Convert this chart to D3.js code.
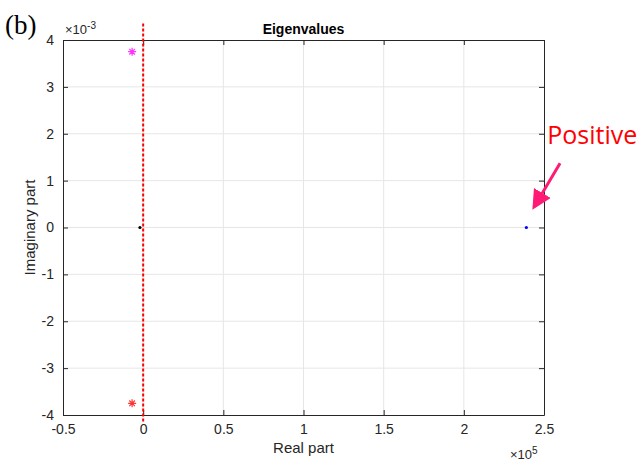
<!DOCTYPE html>
<html>
<head>
<meta charset="utf-8">
<script src="https://cdn.jsdelivr.net/npm/d3@7"></script>
<style>
  body { margin: 0; background: #fff; }
  svg { display: block; }
</style>
</head>
<body>
<div id="chart"></div>
<script>
// eigenvalues
const eigReal = [-6900, -6900, -2000, 239000];
const eigImag = [3.75e-3, -3.75e-3, 0, 0];
const eigKind = ["star", "star", "dot", "dot"];
const eigColor = ["#ff33ff", "#ff3333", "#000000", "#0000ff"];

const xTicks = [-0.5e5, 0, 0.5e5, 1e5, 1.5e5, 2e5, 2.5e5];
const xTickLabels = ["-0.5", "0", "0.5", "1", "1.5", "2", "2.5"];
const yTicks = [-4e-3, -3e-3, -2e-3, -1e-3, 0, 1e-3, 2e-3, 3e-3, 4e-3];
const yTickLabels = ["-4", "-3", "-2", "-1", "0", "1", "2", "3", "4"];

// dashed zero line (imag extent) and annotation arrow, in data units
const zeroLineY = [4.35e-3, -4.15e-3];
const arrowFrom = [2.6e5, 1.37e-3];
const arrowTo = [2.44e5, 0.45e-3];
const noteAt = [2.52e5, 1.79e-3];

const W = 643, H = 462;
const margin = { top: 40, right: 99, bottom: 47, left: 63 };
const width = W - margin.left - margin.right;
const height = H - margin.top - margin.bottom;

const axisCol = "#262626";
const font = "'Liberation Sans', Arial, sans-serif";

const x = d3.scaleLinear().domain([-0.5e5, 2.5e5]).range([0, width]);
const y = d3.scaleLinear().domain([-4e-3, 4e-3]).range([height, 0]);

const svg = d3.select("#chart").append("svg")
  .attr("width", W).attr("height", H);

svg.append("text")
  .attr("x", 5).attr("y", 34)
  .style("font-family", "'Liberation Serif', 'Times New Roman', serif")
  .style("font-size", "27px")
  .text("(b)");

const g = svg.append("g")
  .attr("transform", "translate(" + margin.left + "," + margin.top + ")");

// grid
g.append("g").selectAll("line.gx")
  .data(xTicks.slice(1, -1)).join("line")
  .attr("x1", d => x(d)).attr("x2", d => x(d))
  .attr("y1", 0).attr("y2", height)
  .attr("stroke", "#e6e6e6").attr("stroke-width", 1);
g.append("g").selectAll("line.gy")
  .data(yTicks.slice(1, -1)).join("line")
  .attr("y1", d => y(d)).attr("y2", d => y(d))
  .attr("x1", 0).attr("x2", width)
  .attr("stroke", "#e6e6e6").attr("stroke-width", 1);

// axes with inward ticks
const xAxis = d3.axisBottom(x).tickValues(xTicks)
  .tickFormat((d, i) => xTickLabels[i]).tickSizeInner(-5).tickSizeOuter(0).tickPadding(9);
const yAxis = d3.axisLeft(y).tickValues(yTicks)
  .tickFormat((d, i) => yTickLabels[i]).tickSizeInner(-5).tickSizeOuter(0).tickPadding(9);
const xTop = d3.axisTop(x).tickValues(xTicks).tickFormat("").tickSizeInner(-5).tickSizeOuter(0);
const yRight = d3.axisRight(y).tickValues(yTicks).tickFormat("").tickSizeInner(-5).tickSizeOuter(0);

const styleAxis = sel => {
  sel.selectAll("path").attr("stroke", axisCol);
  sel.selectAll("line").attr("stroke", axisCol);
  sel.selectAll("text").attr("fill", axisCol)
    .style("font-family", font).style("font-size", "14px");
};

g.append("g").attr("transform", "translate(0," + height + ")").call(xAxis).call(styleAxis);
g.append("g").call(yAxis).call(styleAxis);
g.append("g").call(xTop).call(styleAxis);
g.append("g").attr("transform", "translate(" + width + ",0)").call(yRight).call(styleAxis);

// exponent labels
const yExp = svg.append("text")
  .attr("x", margin.left + 2).attr("y", margin.top - 6)
  .attr("fill", axisCol).style("font-family", font).style("font-size", "13px");
yExp.append("tspan").text("\u00d710");
yExp.append("tspan").attr("dy", -5).style("font-size", "10px").text("-3");

const xExp = svg.append("text")
  .attr("x", margin.left + width - 34).attr("y", H - 3)
  .attr("fill", axisCol).style("font-family", font).style("font-size", "13px");
xExp.append("tspan").text("\u00d710");
xExp.append("tspan").attr("dy", -5).style("font-size", "10px").text("5");

// title and labels
svg.append("text")
  .attr("x", margin.left + width / 2).attr("y", 34)
  .attr("text-anchor", "middle").attr("fill", "#000")
  .style("font-family", font).style("font-size", "14px").style("font-weight", "bold")
  .text("Eigenvalues");

svg.append("text")
  .attr("x", margin.left + width / 2).attr("y", H - 9)
  .attr("text-anchor", "middle").attr("fill", axisCol)
  .style("font-family", font).style("font-size", "15px")
  .text("Real part");

svg.append("text")
  .attr("transform", "translate(35," + (margin.top + height / 2) + ") rotate(-90)")
  .attr("text-anchor", "middle").attr("fill", axisCol)
  .style("font-family", font).style("font-size", "15px")
  .text("Imaginary part");

// red dashed zero line
g.append("line")
  .attr("x1", x(0)).attr("x2", x(0))
  .attr("y1", y(zeroLineY[0])).attr("y2", y(zeroLineY[1]))
  .attr("stroke", "#ff0000").attr("stroke-width", 2)
  .attr("stroke-dasharray", "3,2");

// eigenvalue markers
const pts = eigReal.map((d, i) => ({ re: d, im: eigImag[i], kind: eigKind[i], col: eigColor[i] }));
const r = 4;
const star = "M" + (-r) + ",0H" + r + "M0," + (-r) + "V" + r +
  "M" + (-r * 0.7) + "," + (-r * 0.7) + "L" + (r * 0.7) + "," + (r * 0.7) +
  "M" + (-r * 0.7) + "," + (r * 0.7) + "L" + (r * 0.7) + "," + (-r * 0.7);

g.selectAll("path.star")
  .data(pts.filter(d => d.kind === "star")).join("path")
  .attr("class", "star")
  .attr("transform", d => "translate(" + x(d.re) + "," + y(d.im) + ")")
  .attr("d", star)
  .attr("stroke", d => d.col).attr("stroke-width", 1.2).attr("fill", "none");

g.selectAll("circle.dot")
  .data(pts.filter(d => d.kind === "dot")).join("circle")
  .attr("class", "dot")
  .attr("cx", d => x(d.re)).attr("cy", d => y(d.im))
  .attr("r", 1.6)
  .attr("fill", d => d.col);

// annotation
svg.append("defs").append("marker")
  .attr("id", "head").attr("viewBox", "0 0 10 10")
  .attr("refX", 8).attr("refY", 5)
  .attr("markerWidth", 6.5).attr("markerHeight", 6.5)
  .attr("orient", "auto")
  .append("path").attr("d", "M0,0L10,5L0,10Z").attr("fill", "#ff1a75");

g.append("line")
  .attr("x1", x(arrowFrom[0])).attr("y1", y(arrowFrom[1]))
  .attr("x2", x(arrowTo[0])).attr("y2", y(arrowTo[1]))
  .attr("stroke", "#ff1a75").attr("stroke-width", 3)
  .attr("marker-end", "url(#head)");

g.append("text")
  .attr("x", x(noteAt[0])).attr("y", y(noteAt[1]))
  .attr("fill", "#ff0000")
  .style("font-family", "'Open Sans', 'Noto Sans', sans-serif")
  .style("font-size", "25px")
  .text("Positive");
</script>
</body>
</html>
